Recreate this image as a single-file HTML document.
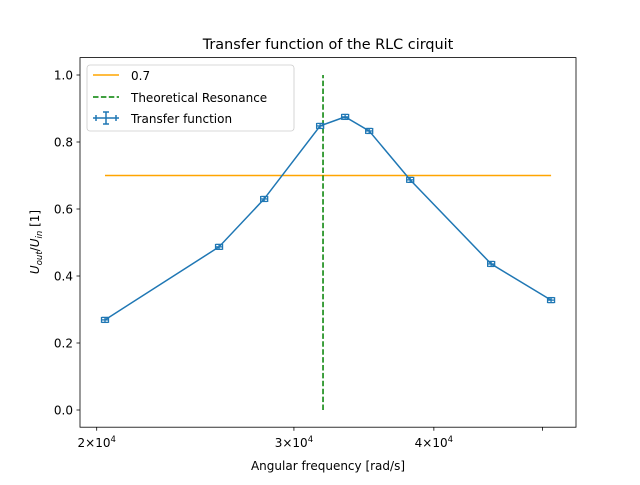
<!DOCTYPE html>
<html><head><meta charset="utf-8"><style>
body{margin:0;background:#fff;}
svg text{font-family:"DejaVu Sans","Liberation Sans",sans-serif;fill:#000;}
</style></head><body>
<svg id="chart" width="640" height="480" xmlns="http://www.w3.org/2000/svg">
<rect width="640" height="480" fill="#fff"/>
<text x="328" y="49" font-size="14.4" text-anchor="middle">Transfer function of the RLC cirquit</text>
<g id="plot"></g>
<rect x="80" y="57.6" width="496" height="369.6" fill="none" stroke="#000" stroke-width="0.8"/>
<text x="328" y="470" font-size="12" text-anchor="middle">Angular frequency [rad/s]</text>
<text transform="translate(39,242) rotate(-90)" font-size="12" text-anchor="middle"><tspan font-style="italic">U</tspan><tspan font-size="8.5" font-style="italic" dy="3">out</tspan><tspan dy="-3">/</tspan><tspan font-style="italic">U</tspan><tspan font-size="8.5" font-style="italic" dy="3">in</tspan><tspan dy="-3"> [1]</tspan></text>
<g>
<rect x="87" y="65" width="207" height="66" rx="3" fill="#fff" fill-opacity="0.8" stroke="#ccc" stroke-width="0.8"/>
<line x1="93" y1="75" x2="119" y2="75" stroke="orange" stroke-width="1.5"/>
<text x="131" y="80" font-size="12">0.7</text>
<line x1="93" y1="97" x2="119" y2="97" stroke="green" stroke-width="1.5" stroke-dasharray="5.5,2.4"/>
<text x="131" y="102" font-size="12">Theoretical Resonance</text>
<g stroke="#1f77b4" stroke-width="1.5"><line x1="93" y1="118" x2="119" y2="118"/><line x1="106" y1="112" x2="106" y2="124"/><line x1="103" y1="112" x2="109" y2="112"/><line x1="103" y1="124" x2="109" y2="124"/><line x1="96" y1="115" x2="96" y2="121"/><line x1="116" y1="115" x2="116" y2="121"/></g>
<text x="131" y="123" font-size="12">Transfer function</text>
</g>
</svg>
<script>
const freqs=[20344,25720,28220,31660,33330,35020,38100,45000,50900];
const ratios=[0.269,0.487,0.630,0.848,0.875,0.833,0.687,0.436,0.328];
const resonance=[31850];
const threshold=[0.7];
const yTicks=[0,0.2,0.4,0.6,0.8,1.0];
const yTickLabels=["0.0","0.2","0.4","0.6","0.8","1.0"];
const xTicks=[20000,30000,40000,50000];
const xTickLabels=["2","3","4",""];
const NS="http://www.w3.org/2000/svg";
const g=document.getElementById('plot');
function X(v){return 96.7+1120*Math.log10(v/20000);}
function Y(v){return 410-335*v;}
function el(t,a,p){const e=document.createElementNS(NS,t);for(const k in a)e.setAttribute(k,a[k]);(p||g).appendChild(e);return e;}
yTicks.forEach((v,i)=>{
 const t=el('line',{x1:76.5,x2:80,y1:Y(v),y2:Y(v),stroke:'#000','stroke-width':0.8});
 
 
 const l=el('text',{x:73,y:Y(v)+4.5,'font-size':12,'text-anchor':'end'});l.textContent=yTickLabels[i];
 
 
});
xTicks.forEach((v,i)=>{
 const t=el('line',{x1:X(v),x2:X(v),y1:427.2,y2:430.7,stroke:'#000','stroke-width':0.8});
 
 
 if(xTickLabels[i]){
  const l=el('text',{x:X(v),y:447,'font-size':12,'text-anchor':'middle'});
  l.innerHTML=xTickLabels[i]+'\u00d710<tspan font-size="8.5" dy="-5">4</tspan>';
  
  
 }
});
const x0=X(freqs[0]),x1=X(freqs[freqs.length-1]);
const th=el('line',{x1:x0,x2:x1,y1:Y(threshold[0]),y2:Y(threshold[0]),stroke:'orange','stroke-width':1.5});


const rs=el('line',{x1:X(resonance[0]),x2:X(resonance[0]),y1:Y(0),y2:Y(1),stroke:'green','stroke-width':1.5,'stroke-dasharray':'5.5,2.4'});


const pl=el('polyline',{points:freqs.map((f,i)=>X(f)+','+Y(ratios[i])).join(' '),fill:'none',stroke:'#1f77b4','stroke-width':1.5});


freqs.forEach((f,i)=>{
 const gx=el('g',{stroke:'#1f77b4','stroke-width':1.3});
 
 
 const x=X(f),y=Y(ratios[i]);
 el('line',{x1:x-3.5,x2:x+3.5,y1:y,y2:y},gx);
 el('line',{x1:x,x2:x,y1:y-2.5,y2:y+2.5},gx);
 el('line',{x1:x-3,x2:x+3,y1:y-2.5,y2:y-2.5},gx);
 el('line',{x1:x-3,x2:x+3,y1:y+2.5,y2:y+2.5},gx);
 el('line',{x1:x-3.5,x2:x-3.5,y1:y-3,y2:y+3},gx);
 el('line',{x1:x+3.5,x2:x+3.5,y1:y-3,y2:y+3},gx);
});
</script>
</body></html>
